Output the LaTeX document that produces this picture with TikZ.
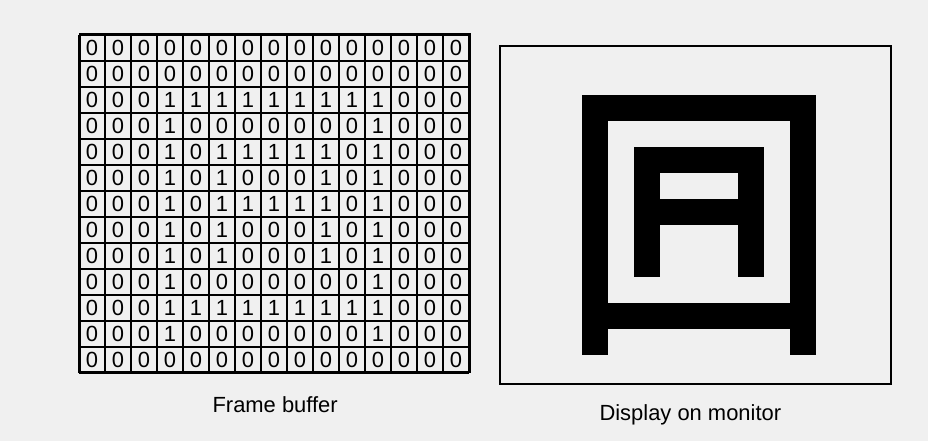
\documentclass[tikz,border=0pt]{standalone}
\usepackage{fontspec}
\setmainfont{Liberation Sans}
\usepackage{xcolor}
\usetikzlibrary{positioning,calc}
\definecolor{scangray}{HTML}{F0F0F0}

\begin{document}
\begin{tikzpicture}[x=0.5cm,y=0.5cm,
  bit/.style={minimum size=5mm,inner sep=0pt,font=\fontsize{12}{12}\selectfont},
  pixel/.style={fill=black},
  lab/.style={font=\fontsize{12}{14}\selectfont}
]
% page, with the margins of the scan
\fill[scangray] (-3.04,-2.62) rectangle (32.65,14.35);
\useasboundingbox (-3.04,-2.62) rectangle (32.65,14.35);

% frame buffer contents (row 0 on top) and the pixels they light on the monitor
\foreach \r/\bits in {
  0/{0,0,0,0,0,0,0,0,0,0,0,0,0,0,0},
  1/{0,0,0,0,0,0,0,0,0,0,0,0,0,0,0},
  2/{0,0,0,1,1,1,1,1,1,1,1,1,0,0,0},
  3/{0,0,0,1,0,0,0,0,0,0,0,1,0,0,0},
  4/{0,0,0,1,0,1,1,1,1,1,0,1,0,0,0},
  5/{0,0,0,1,0,1,0,0,0,1,0,1,0,0,0},
  6/{0,0,0,1,0,1,1,1,1,1,0,1,0,0,0},
  7/{0,0,0,1,0,1,0,0,0,1,0,1,0,0,0},
  8/{0,0,0,1,0,1,0,0,0,1,0,1,0,0,0},
  9/{0,0,0,1,0,0,0,0,0,0,0,1,0,0,0},
  10/{0,0,0,1,1,1,1,1,1,1,1,1,0,0,0},
  11/{0,0,0,1,0,0,0,0,0,0,0,1,0,0,0},
  12/{0,0,0,0,0,0,0,0,0,0,0,0,0,0,0}}{
  \foreach \b [count=\c from 0] in \bits {
    \node[bit] (f-\r-\c) at (\c+0.5,12.5-\r) {\b};
    \ifnum\b=1 \fill[pixel] (\c+16.35,11.69-\r) rectangle ++(1,1); \fi
  }
}
\draw[line width=0.9pt,step=5mm] (0,0) grid (15,13);
\node[draw,line width=1.2pt,minimum width=7.5cm,minimum height=6.5cm,anchor=south west,inner sep=0pt] (buffer) at (0,0) {};
\node[lab,below=3.2mm of buffer] (bufferlab) {Frame buffer};

% the monitor
\node[draw,line width=0.8pt,minimum width=7.52cm,minimum height=6.5cm,inner sep=0pt] (monitor) at (23.71,6.08) {};
\node[lab,below=2.6mm of monitor,xshift=-1mm] (monitorlab) {Display on monitor};
\end{tikzpicture}
\end{document}
